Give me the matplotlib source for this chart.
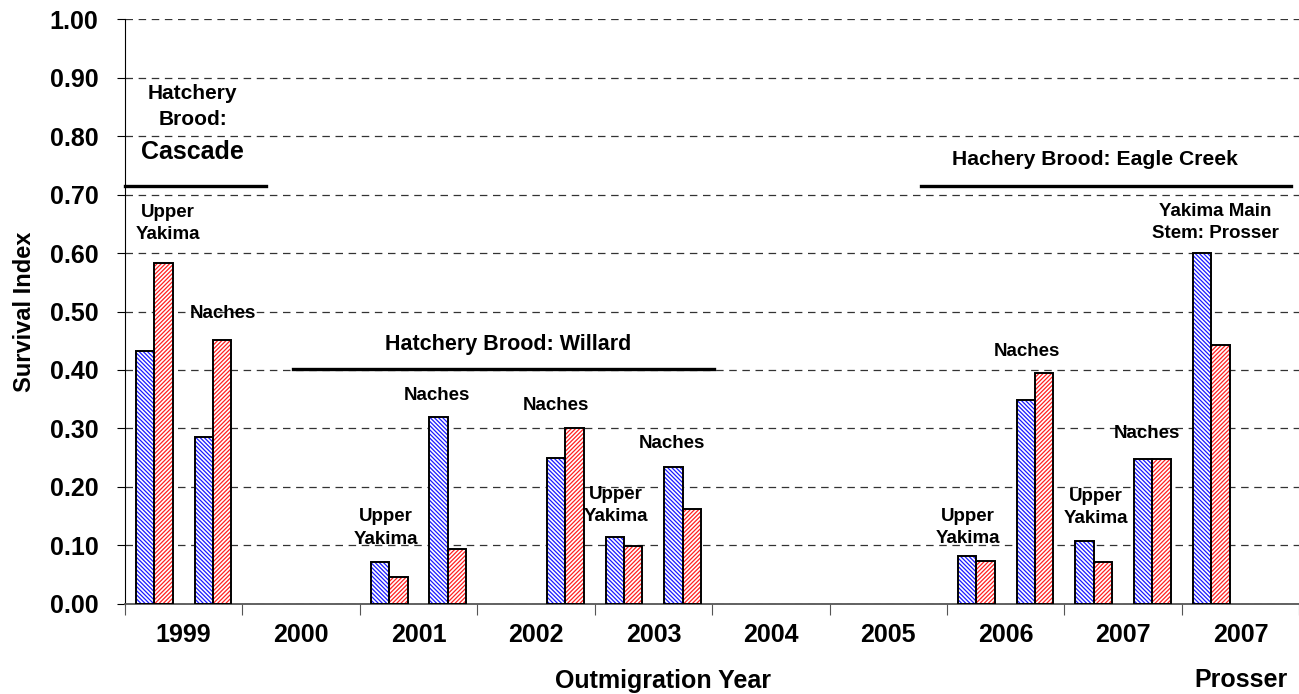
import matplotlib
matplotlib.use("Agg")
from matplotlib import pyplot as plt

plt.rcParams['font.family'] = ['Liberation Sans', 'DejaVu Sans']
plt.rcParams['font.weight'] = 'bold'
plt.rcParams['hatch.linewidth'] = 0.9

# x-axis categories (each one holds two bar slots)
categories = ['1999', '2000', '2001', '2002', '2003', '2004', '2005', '2006', '2007', '2007\nProsser']

# bar pairs: slot index, release group, survival index for the two series
bar_slots = [0, 1, 4, 5, 7, 8, 9, 14, 15, 16, 17, 18]
groups = ['Upper\nYakima', 'Naches', 'Upper\nYakima', 'Naches', 'Naches', 'Upper\nYakima',
          'Naches', 'Upper\nYakima', 'Naches', 'Upper\nYakima', 'Naches', 'Yakima Main\nStem: Prosser']
series_blue = [0.432, 0.286, 0.071, 0.320, 0.250, 0.115, 0.234, 0.082, 0.348, 0.108, 0.247, 0.600]
series_red = [0.583, 0.452, 0.046, 0.094, 0.300, 0.099, 0.163, 0.074, 0.395, 0.071, 0.247, 0.443]

# hatchery brood labels
broods = ['Hatchery Brood: Willard', 'Hachery Brood: Eagle Creek']

# where the group labels sit (offset from slot, height)
label_dx = [0.23, 0.17, -0.05, -0.18, -0.16, -0.14, -0.19, -0.14, -0.14, 0.03, -0.10, 0.07]
label_y = [0.651, 0.496, 0.130, 0.357, 0.340, 0.168, 0.275, 0.131, 0.431, 0.165, 0.292, 0.652]

fig = plt.figure(figsize=(12.99, 6.94), dpi=100)
ax = fig.add_axes([0.0962, 0.1297, 0.904, 0.8429])

w = 0.314
xb = [s - w / 2 for s in bar_slots]
xr = [s + w / 2 for s in bar_slots]
ax.bar(xb, series_blue, width=w, facecolor='white', edgecolor='#1a1aff', hatch='\\\\\\\\\\\\\\\\', lw=0, zorder=3)
ax.bar(xb, series_blue, width=w, facecolor='none', edgecolor='black', lw=1.4, zorder=4)
ax.bar(xr, series_red, width=w, facecolor='white', edgecolor='#ff2020', hatch='////////', lw=0, zorder=3)
ax.bar(xr, series_red, width=w, facecolor='none', edgecolor='black', lw=1.4, zorder=4)

for s, g, dx, y in zip(bar_slots, groups, label_dx, label_y):
    ax.text(s + dx, y, g, ha='center', va='center', fontsize=13.5, linespacing=1.4, zorder=5)

# brood annotations
ax.plot([-0.5, 1.9], [0.715, 0.715], color='black', lw=2.4, zorder=5, clip_on=False)
ax.text(0.655, 0.851, 'Hatchery\nBrood:', ha='center', va='center', fontsize=15, linespacing=1.45)
ax.text(0.655, 0.773, 'Cascade', ha='center', va='center', fontsize=18)
ax.plot([2.355, 9.54], [0.402, 0.402], color='black', lw=2.4, zorder=5)
ax.text(6.025, 0.443, broods[0], ha='center', va='center', fontsize=15.5)
ax.plot([13.06, 19.36], [0.714, 0.714], color='black', lw=2.4, zorder=5)
ax.text(16.02, 0.759, broods[1], ha='center', va='center', fontsize=15.2)

ax.set_xlim(-0.5, 19.5)
ax.set_ylim(0, 1.0)
ax.set_yticks([i / 10 for i in range(11)])
ax.set_yticklabels(['%.2f' % (i / 10) for i in range(11)], fontsize=18)
ax.yaxis.grid(True, linestyle=(0, (6, 4.5)), color='#333333', lw=0.9)
ax.set_axisbelow(True)

ax.set_xticks([-0.5 + 2 * i for i in range(11)])
ax.set_xticklabels([])
ax.set_xticks([0.5 + 2 * i for i in range(10)], minor=True)
ax.set_xticklabels(categories, minor=True, fontsize=18, linespacing=2.1)
ax.tick_params(axis='x', which='major', length=8, direction='out', color='#555555')
ax.tick_params(axis='x', which='minor', length=0, pad=14)
ax.tick_params(axis='y', length=6, direction='out', pad=13)

for side in ['top', 'right']:
    ax.spines[side].set_visible(False)
ax.spines['left'].set_color('black')
ax.spines['bottom'].set_color('#555555')
ax.spines['bottom'].set_linewidth(1.3)

ax.set_ylabel('Survival Index', fontsize=17, fontweight='bold', labelpad=10)
ax.set_xlabel('Outmigration Year', fontsize=18, fontweight='bold')
ax.xaxis.set_label_coords(0.458, -0.111)
ax.yaxis.set_label_coords(-0.076, 0.5)

fig.savefig('out.png', dpi=100)
